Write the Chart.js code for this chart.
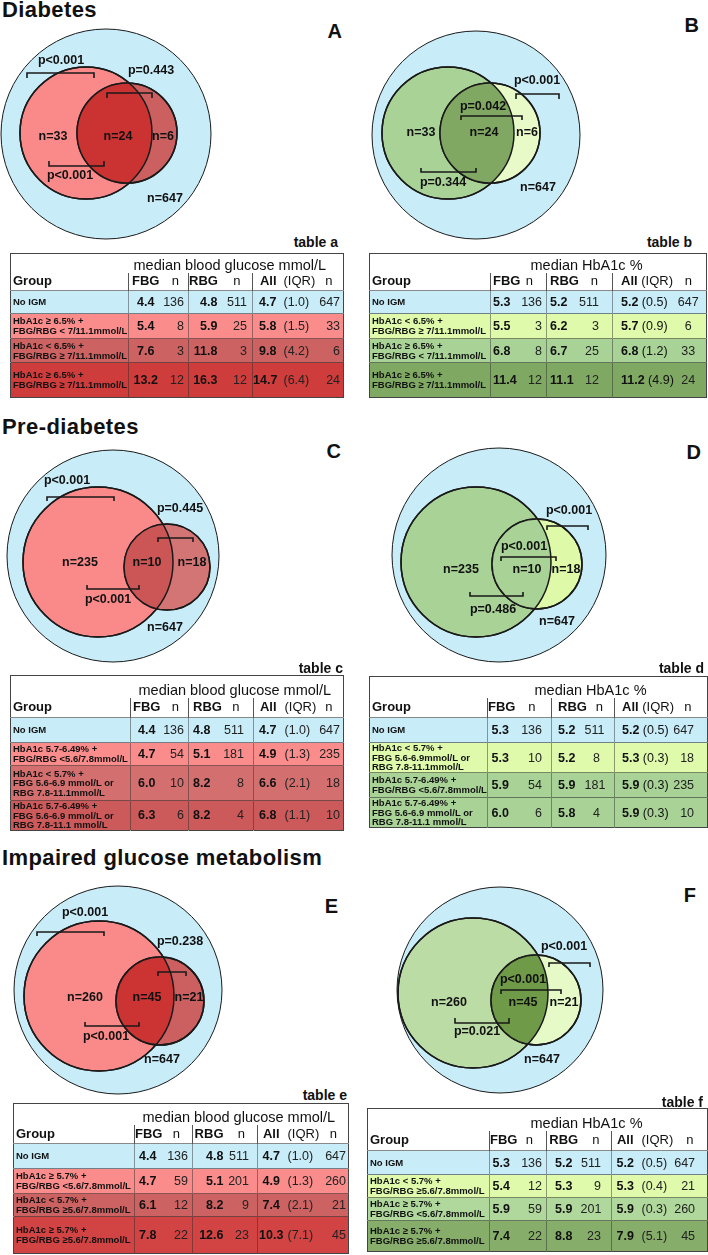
<!DOCTYPE html>
<html>
<head>
<meta charset="utf-8">
<title>Diabetes, pre-diabetes and IGM</title>
<script src="https://cdn.jsdelivr.net/npm/chart.js@4.4.1/dist/chart.umd.min.js"></script>
<style>
  body { margin: 0; background: #fff; font-family: "Liberation Sans", Arial, Helvetica, sans-serif; color: #111; }
  #page { position: relative; width: 708px; height: 1255px; overflow: hidden; }
  .title { position: absolute; left: 2px; font-size: 22px; line-height: 22px; font-weight: bold; white-space: nowrap; letter-spacing: 0.4px; }
  .letter { position: absolute; font-size: 20px; line-height: 20px; font-weight: bold; }
  .tlabel { position: absolute; font-size: 14px; line-height: 14px; font-weight: bold; white-space: nowrap; }
  .venn { position: absolute; }
  .tbl { position: absolute; border-collapse: collapse; table-layout: fixed; border: 1.5px solid #444; }
  .tbl td { padding: 0; white-space: nowrap; font-size: 12.5px; line-height: 12px; vertical-align: middle; overflow: visible; }
  .tbl .ttl { font-size: 14.5px; line-height: 15px; vertical-align: bottom; text-align: left; }
  .tbl tr.hd td { font-size: 13px; }
  .tbl .grp { font-size: 9.5px; line-height: 9.6px; font-weight: bold; text-align: left; padding-left: 2px; }
  .tbl tr.bd td { border-top: 1px solid rgba(40,40,40,0.55); }
  .tbl tr.bd td.sep { border-left: 1px solid rgba(40,40,40,0.45); }
  .tbl tr.hd td.sep { border-left: 1px solid #555; }
  .tbl .v { font-weight: bold; }
  .tbl .nn { color: #222; }
</style>
</head>
<body>
<div id="page">
  <div class="title" style="top:-1px">Diabetes</div>
  <div class="title" style="top:416px">Pre-diabetes</div>
  <div class="title" style="top:847px">Impaired glucose metabolism</div>
</div>
<script>
// Venn counts: HbA1c only, both, glucose only, all participants
const nDiabetes = [33, 24, 6, 647];
const nPrediabetes = [235, 10, 18, 647];
const nImpaired = [260, 45, 21, 647];

// p-values printed on each Venn
const pA = ['p<0.001', 'p=0.443', 'p<0.001'];
const pB = ['p<0.001', 'p=0.042', 'p=0.344'];
const pC = ['p<0.001', 'p=0.445', 'p<0.001'];
const pD = ['p<0.001', 'p<0.001', 'p=0.486'];
const pE = ['p<0.001', 'p=0.238', 'p<0.001'];
const pF = ['p<0.001', 'p<0.001', 'p=0.021'];

// table a - median blood glucose mmol/L
const groupsA = ['No IGM', 'HbA1c ≥ 6.5% +\nFBG/RBG < 7/11.1mmol/L', 'HbA1c < 6.5% +\nFBG/RBG ≥ 7/11.1mmol/L', 'HbA1c ≥ 6.5% +\nFBG/RBG ≥ 7/11.1mmol/L'];
const fbgA = [4.4, 5.4, 7.6, 13.2], fbgNA = [136, 8, 3, 12];
const rbgA = [4.8, 5.9, 11.8, 16.3], rbgNA = [511, 25, 3, 12];
const allA = [4.7, 5.8, 9.8, 14.7], iqrA = [1.0, 1.5, 4.2, 6.4], allNA = [647, 33, 6, 24];

// table b - median HbA1c %
const groupsB = ['No IGM', 'HbA1c < 6.5% +\nFBG/RBG ≥ 7/11.1mmol/L', 'HbA1c ≥ 6.5% +\nFBG/RBG < 7/11.1mmol/L', 'HbA1c ≥ 6.5% +\nFBG/RBG ≥ 7/11.1mmol/L'];
const fbgB = [5.3, 5.5, 6.8, 11.4], fbgNB = [136, 3, 8, 12];
const rbgB = [5.2, 6.2, 6.7, 11.1], rbgNB = [511, 3, 25, 12];
const allB = [5.2, 5.7, 6.8, 11.2], iqrB = [0.5, 0.9, 1.2, 4.9], allNB = [647, 6, 33, 24];

// table c - median blood glucose mmol/L
const groupsC = ['No IGM', 'HbA1c 5.7-6.49% +\nFBG/RBG <5.6/7.8mmol/L', 'HbA1c  < 5.7% +\nFBG 5.6-6.9 mmol/L  or\nRBG 7.8-11.1mmol/L', 'HbA1c 5.7-6.49% +\nFBG 5.6-6.9 mmol/L  or\nRBG 7.8-11.1 mmol/L'];
const fbgC = [4.4, 4.7, 6.0, 6.3], fbgNC = [136, 54, 10, 6];
const rbgC = [4.8, 5.1, 8.2, 8.2], rbgNC = [511, 181, 8, 4];
const allC = [4.7, 4.9, 6.6, 6.8], iqrC = [1.0, 1.3, 2.1, 1.1], allNC = [647, 235, 18, 10];

// table d - median HbA1c %
const groupsD = ['No IGM', 'HbA1c  < 5.7% +\nFBG 5.6-6.9mmol/L  or\nRBG 7.8-11.1mmol/L', 'HbA1c 5.7-6.49% +\nFBG/RBG <5.6/7.8mmol/L', 'HbA1c 5.7-6.49% +\nFBG 5.6-6.9 mmol/L  or\nRBG 7.8-11.1 mmol/L'];
const fbgD = [5.3, 5.3, 5.9, 6.0], fbgND = [136, 10, 54, 6];
const rbgD = [5.2, 5.2, 5.9, 5.8], rbgND = [511, 8, 181, 4];
const allD = [5.2, 5.3, 5.9, 5.9], iqrD = [0.5, 0.3, 0.3, 0.3], allND = [647, 18, 235, 10];

// table e - median blood glucose mmol/L
const groupsE = ['No IGM', 'HbA1c ≥ 5.7% +\nFBG/RBG <5.6/7.8mmol/L', 'HbA1c < 5.7% +\nFBG/RBG ≥5.6/7.8mmol/L', 'HbA1c ≥ 5.7% +\nFBG/RBG ≥5.6/7.8mmol/L'];
const fbgE = [4.4, 4.7, 6.1, 7.8], fbgNE = [136, 59, 12, 22];
const rbgE = [4.8, 5.1, 8.2, 12.6], rbgNE = [511, 201, 9, 23];
const allE = [4.7, 4.9, 7.4, 10.3], iqrE = [1.0, 1.3, 2.1, 7.1], allNE = [647, 260, 21, 45];

// table f - median HbA1c %
const groupsF = ['No IGM', 'HbA1c < 5.7% +\nFBG/RBG ≥5.6/7.8mmol/L', 'HbA1c ≥ 5.7% +\nFBG/RBG <5.6/7.8mmol/L', 'HbA1c ≥ 5.7% +\nFBG/RBG ≥5.6/7.8mmol/L'];
const fbgF = [5.3, 5.4, 5.9, 7.4], fbgNF = [136, 12, 59, 22];
const rbgF = [5.2, 5.3, 5.9, 8.8], rbgNF = [511, 9, 201, 23];
const allF = [5.2, 5.3, 5.9, 7.9], iqrF = [0.5, 0.4, 0.3, 5.1], allNF = [647, 21, 260, 45];

// ---------- Venn layout (offsets from the outer circle centre; 1 unit = 1 px) ----------
const VSIZE = 250;
const BLUE = '#c8ecf8';
const venns = [
  { n: nDiabetes, p: pA, cx: 106, cy: 134, colors: [BLUE, '#fa8a8a', '#cc6060', '#cb3333'],
    circles: [[0, 0, 105], [-20, -1, 66], [21, -1, 50]],
    nPos: [[-53, 3], [12, 3], [57, 3], [59, 65]], pPos: [[-45, -73], [45, -63], [-36, 42]],
    br: [[-79, -12, -61, 5], [1, 46, -41, 5], [-57, -2, 32, -5]] },
  { n: nDiabetes, p: pB, cx: 476, cy: 135, colors: [BLUE, '#a8d296', '#e8fac8', '#80a862'],
    circles: [[0, 0, 104], [-28, -2, 66], [14, -2, 50]],
    nPos: [[-55, -2], [8, -2], [51, -2], [62, 53]], pPos: [[61, -54], [7, -28], [-33, 48]],
    br: [[40, 83, -41, 5], [-15, 46, -19, 4], [-55, 0, 37, -4]] },
  { n: nPrediabetes, p: pC, cx: 113, cy: 556, colors: [BLUE, '#fa8a8a', '#d47575', '#cc5656'],
    circles: [[0, 0, 106], [-15, 6, 75], [54, 11, 43]],
    nPos: [[-33, 7], [34, 7], [79, 7], [52, 72]], pPos: [[-46, -75], [67, -47], [-5, 44]],
    br: [[-66, 1, -59, 4], [45, 80, -18, 4], [-26, 26, 33, -4]] },
  { n: nPrediabetes, p: pD, cx: 499, cy: 555, colors: [BLUE, '#a8d296', '#defaa8', '#a8d296'],
    circles: [[0, 0, 107], [-23, 7, 75], [38, 9, 45]],
    nPos: [[-38, 15], [28, 15], [67, 15], [58, 67]], pPos: [[70, -44], [25, -8], [-6, 55]],
    br: [[48, 89, -29, 4], [2, 57, 2, 4], [-29, 24, 41, -4]] },
  { n: nImpaired, p: pE, cx: 118, cy: 990, colors: [BLUE, '#fa8a8a', '#cc6060', '#cc3333'],
    circles: [[0, 0, 104], [-19, 6, 75], [42, 11, 44]],
    nPos: [[-33, 8], [29, 8], [71, 8], [44, 70]], pPos: [[-33, -77], [62, -48], [-12, 47]],
    br: [[-81, -14, -58, 4], [40, 68, -18, 4], [-33, 21, 36, -4]] },
  { n: nImpaired, p: pF, cx: 500, cy: 990, colors: [BLUE, '#bcdca6', '#e6fac8', '#6f9a48'],
    circles: [[0, 0, 103], [-27, 3, 75], [36, 10, 45]],
    nPos: [[-51, 13], [23, 13], [64, 13], [42, 70]], pPos: [[64, -43], [23, -10], [-23, 42]],
    br: [[49, 90, -27, 4], [1, 61, 0, 4], [-45, 9, 33, -5]] }
];

const letters = [['A', 366, 21], ['B', 9, 15], ['C', 367, 441], ['D', 7, 442], ['E', 370, 896], ['F', 12, 885]];
const tableLabels = [['table a', 370, 235], ['table b', 16, 235], ['table c', 365, 661], ['table d', 4, 661], ['table e', 361, 1088], ['table f', 5, 1095]];

const page = document.getElementById('page');
Chart.defaults.font.family = '"Liberation Sans", Arial, Helvetica, sans-serif';

// fill the lens where both inner sets overlap, then redraw their outlines
const overlapPlugin = {
  id: 'overlap',
  afterDatasetDraw(chart, args, opts) {
    if (args.index !== 0) return;
    const a = args.meta.data[1], b = args.meta.data[2];
    const c = chart.ctx;
    c.save();
    c.beginPath(); c.arc(a.x, a.y, a.options.radius, 0, Math.PI * 2); c.clip();
    c.beginPath(); c.arc(b.x, b.y, b.options.radius, 0, Math.PI * 2);
    c.fillStyle = opts.color; c.fill();
    c.restore();
    c.save();
    c.lineWidth = 1.5; c.strokeStyle = '#1a1a1a';
    [a, b].forEach(p => { c.beginPath(); c.arc(p.x, p.y, p.options.radius, 0, Math.PI * 2); c.stroke(); });
    c.restore();
  }
};

const labelPlugin = {
  id: 'vennLabels',
  afterDatasetsDraw(chart, args, opts) {
    const { ctx, scales: { x, y } } = chart;
    ctx.save();
    ctx.font = 'bold 12.5px "Liberation Sans", Arial, sans-serif';
    ctx.fillStyle = '#111';
    ctx.textAlign = 'center';
    ctx.textBaseline = 'middle';
    opts.items.forEach(it => ctx.fillText(it.text, x.getPixelForValue(it.x), y.getPixelForValue(it.y)));
    ctx.restore();
  }
};

function makeVenn(v) {
  const el = document.createElement('canvas');
  el.width = VSIZE; el.height = VSIZE;
  el.className = 'venn';
  el.style.left = (v.cx - VSIZE / 2) + 'px';
  el.style.top = (v.cy - VSIZE / 2) + 'px';
  page.appendChild(el);

  const items = v.nPos.map((q, i) => ({ x: q[0], y: q[1], text: 'n=' + v.n[i] }))
    .concat(v.pPos.map((q, i) => ({ x: q[0], y: q[1], text: v.p[i] })));

  const brackets = v.br.map(b => ({
    type: 'line',
    data: [{ x: b[0], y: b[2] + b[3] }, { x: b[0], y: b[2] }, { x: b[1], y: b[2] }, { x: b[1], y: b[2] + b[3] }],
    borderColor: '#1a1a1a', borderWidth: 1.6, pointRadius: 0, fill: false, clip: false, order: 1
  }));

  new Chart(el, {
    type: 'bubble',
    data: {
      datasets: [{
        label: 'sets',
        // the x/y scales span VSIZE units over VSIZE px, so r in units equals r in px
        data: v.circles.map(c => ({ x: c[0], y: c[1], r: c[2] })),
        backgroundColor: v.colors.slice(0, 3),
        borderColor: '#1a1a1a',
        borderWidth: [1, 1.5, 1.5],
        clip: false,
        order: 3
      }].concat(brackets)
    },
    options: {
      responsive: false,
      animation: false,
      events: [],
      devicePixelRatio: 1,
      layout: { padding: 0, autoPadding: false },
      scales: {
        x: { type: 'linear', min: -VSIZE / 2, max: VSIZE / 2, display: false },
        y: { type: 'linear', min: -VSIZE / 2, max: VSIZE / 2, reverse: true, display: false }
      },
      plugins: {
        legend: { display: false },
        tooltip: { enabled: false },
        overlap: { color: v.colors[3] },
        vennLabels: { items: items }
      }
    },
    plugins: [overlapPlugin, labelPlugin]
  });
}

// ---------- tables ----------
const tables = [
  { left: 10, top: 253, title: 'median blood glucose mmol/L', titlePad: 5, head: [19, 18], rows: [23, 25, 24, 35],
    bg: ['#c8ecf8', '#fa8c8c', '#cd6262', '#cf3c3c'], g: groupsA, fv: fbgA, fn: fbgNA, rv: rbgA, rn: rbgNA, av: allA, iq: iqrA, an: allNA,
    cols: [118, 34, 26, 33, 31, 28, 34, 29], al: [['l', 2], ['c'], ['r', 4], ['r', 4], ['r', 5], ['r', 4], ['l', 3], ['r', 3]] },
  { left: 369, top: 253, title: 'median HbA1c %', titlePad: 40, head: [19, 18], rows: [23, 25, 24, 35], join: true,
    bg: ['#c8ecf8', '#defaaa', '#a9d396', '#7fa862'], g: groupsB, fv: fbgB, fn: fbgNB, rv: rbgB, rn: rbgNB, av: allB, iq: iqrB, an: allNB,
    cols: [121, 22, 34, 30, 36, 58, 36], al: [['l', 2], ['l', 2], ['r', 4], ['l', 3], ['r', 13], ['l', 8], ['c']] },
  { left: 10, top: 675, title: 'median blood glucose mmol/L', titlePad: 8, head: [22, 20], rows: [25, 23, 35, 28],
    bg: ['#c8ecf8', '#fa8c8c', '#d46f6f', '#cd5a5a'], g: groupsC, fv: fbgC, fn: fbgNC, rv: rbgC, rn: rbgNC, av: allC, iq: iqrC, an: allNC,
    cols: [120, 32, 26, 30, 35, 27, 34, 29], al: [['l', 2], ['c'], ['r', 4], ['l', 4], ['r', 9], ['r', 4], ['l', 4], ['r', 3]] },
  { left: 369, top: 676, title: 'median HbA1c %', titlePad: 47, head: [21, 20], rows: [25, 30, 25, 30], join: true,
    bg: ['#c8ecf8', '#defaaa', '#a9d396', '#a9d396'], g: groupsD, fv: fbgD, fn: fbgND, rv: rbgD, rn: rbgND, av: allD, iq: iqrD, an: allND,
    cols: [118, 25, 39, 33, 30, 54, 39], al: [['l', 2], ['c'], ['r', 9], ['l', 6], ['r', 14], ['l', 7], ['r', 13]] },
  { left: 13, top: 1103, title: 'median blood glucose mmol/L', titlePad: 8, head: [21, 19], rows: [25, 25, 23, 37],
    bg: ['#c8ecf8', '#fa8c8c', '#cd6262', '#d24444'], g: groupsE, fv: fbgE, fn: fbgNE, rv: rbgE, rn: rbgNE, av: allE, iq: iqrE, an: allNE,
    cols: [121, 26, 32, 33, 32, 27, 34, 30], al: [['l', 2], ['c'], ['r', 4], ['r', 2], ['r', 8], ['c'], ['l', 3], ['r', 2]] },
  { left: 367, top: 1108, title: 'median HbA1c %', titlePad: 41, head: [22, 20], rows: [24, 23, 23, 31],
    bg: ['#c8ecf8', '#defaaa', '#b1d89c', '#86ad69'], g: groupsF, fv: fbgF, fn: fbgNF, rv: rbgF, rn: rbgNF, av: allF, iq: iqrF, an: allNF,
    cols: [122, 23, 34, 34, 31, 27, 34, 35], al: [['l', 2], ['c'], ['r', 4], ['c'], ['r', 10], ['c'], ['l', 3], ['r', 12]] }
];

function alignStyle(a) {
  if (a[0] === 'l') return 'text-align:left;padding-left:' + (a[1] || 0) + 'px';
  if (a[0] === 'r') return 'text-align:right;padding-right:' + (a[1] || 0) + 'px';
  return 'text-align:center';
}

function buildTable(t) {
  const el = document.createElement('table');
  el.className = 'tbl';
  el.style.left = t.left + 'px';
  el.style.top = t.top + 'px';
  el.style.width = t.cols.reduce((s, w) => s + w, 0) + 'px';
  const nCols = t.cols.length;
  const st = t.al.map(alignStyle);
  const nIdx = t.join ? [2, 4, 6] : [2, 4, 7];
  const hs = st.map((s, i) => nIdx.includes(i) ? 'text-align:center' : s);
  const sepIdx = [1, 3, 5];
  const td = (i, cls, html, styles) => '<td class="' + cls + (sepIdx.includes(i) ? ' sep' : '') + '" style="' + styles[i] + '">' + html + '</td>';

  let h = '<colgroup>' + t.cols.map(w => '<col style="width:' + w + 'px">').join('') + '</colgroup>';
  h += '<tr style="height:' + t.head[0] + 'px"><td></td><td class="ttl" colspan="' + (nCols - 1) + '" style="padding-left:' + t.titlePad + 'px">' + t.title + '</td></tr>';
  const heads = t.join
    ? ['<b>Group</b>', '<b>FBG</b>', 'n', '<b>RBG</b>', 'n', '<b>All</b> (IQR)', 'n']
    : ['<b>Group</b>', '<b>FBG</b>', 'n', '<b>RBG</b>', 'n', '<b>All</b>', '(IQR)', 'n'];
  h += '<tr class="hd" style="height:' + t.head[1] + 'px">' + heads.map((x, i) => td(i, '', x, i === 0 ? ['text-align:left;padding-left:2px'] : hs)).join('') + '</tr>';

  t.g.forEach((g, r) => {
    const cells = [
      ['grp', g.replace(/\n/g, '<br>')],
      ['v', t.fv[r].toFixed(1)], ['nn', t.fn[r]],
      ['v', t.rv[r].toFixed(1)], ['nn', t.rn[r]]
    ];
    if (t.join) cells.push(['', '<b>' + t.av[r].toFixed(1) + '</b> (' + t.iq[r].toFixed(1) + ')']);
    else cells.push(['v', t.av[r].toFixed(1)], ['nn', '(' + t.iq[r].toFixed(1) + ')']);
    cells.push(['nn', t.an[r]]);
    h += '<tr class="bd" style="height:' + t.rows[r] + 'px;background:' + t.bg[r] + '">' +
      cells.map((c, i) => td(i, c[0], c[1], i === 0 ? [''] : st)).join('') + '</tr>';
  });
  el.innerHTML = h;
  page.appendChild(el);
}

venns.forEach(makeVenn);
tables.forEach(buildTable);

letters.forEach(([txt, right, top]) => {
  const d = document.createElement('div');
  d.className = 'letter';
  d.style.right = right + 'px'; d.style.top = top + 'px';
  d.textContent = txt;
  page.appendChild(d);
});
tableLabels.forEach(([txt, right, top]) => {
  const d = document.createElement('div');
  d.className = 'tlabel';
  d.style.right = right + 'px'; d.style.top = top + 'px';
  d.textContent = txt;
  page.appendChild(d);
});
</script>
</body>
</html>
